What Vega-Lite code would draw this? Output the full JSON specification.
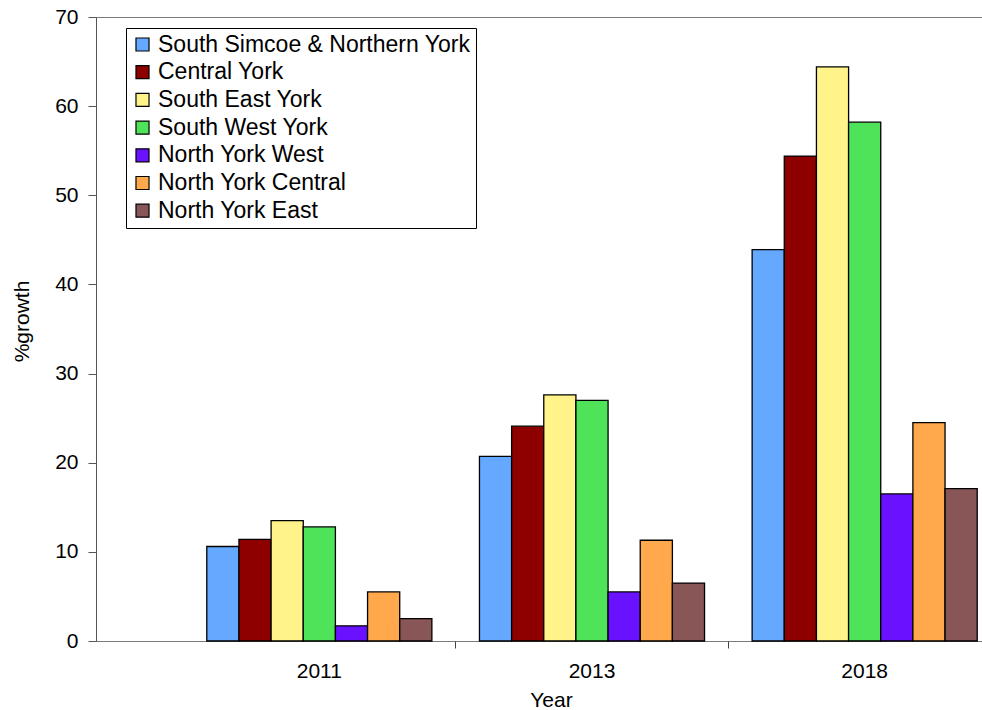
{
  "$schema": "https://vega.github.io/schema/vega-lite/v6.json",
  "width": 886,
  "height": 624,
  "autosize": {"type": "none"},
  "padding": {"left": 96, "top": 17, "right": 0, "bottom": 69},
  "background": "white",
  "config": {
    "view": {"stroke": "#7a7a7a", "strokeWidth": 1},
    "font": "Liberation Sans"
  },
  "data": {
    "values": [
      {"year": "2011", "region": "South Simcoe & Northern York", "growth": 10.6},
      {"year": "2011", "region": "Central York", "growth": 11.4},
      {"year": "2011", "region": "South East York", "growth": 13.5},
      {"year": "2011", "region": "South West York", "growth": 12.8},
      {"year": "2011", "region": "North York West", "growth": 1.7},
      {"year": "2011", "region": "North York Central", "growth": 5.5},
      {"year": "2011", "region": "North York East", "growth": 2.5},
      {"year": "2013", "region": "South Simcoe & Northern York", "growth": 20.7},
      {"year": "2013", "region": "Central York", "growth": 24.1},
      {"year": "2013", "region": "South East York", "growth": 27.6},
      {"year": "2013", "region": "South West York", "growth": 27.0},
      {"year": "2013", "region": "North York West", "growth": 5.5},
      {"year": "2013", "region": "North York Central", "growth": 11.3},
      {"year": "2013", "region": "North York East", "growth": 6.5},
      {"year": "2018", "region": "South Simcoe & Northern York", "growth": 43.9},
      {"year": "2018", "region": "Central York", "growth": 54.4},
      {"year": "2018", "region": "South East York", "growth": 64.4},
      {"year": "2018", "region": "South West York", "growth": 58.2},
      {"year": "2018", "region": "North York West", "growth": 16.5},
      {"year": "2018", "region": "North York Central", "growth": 24.5},
      {"year": "2018", "region": "North York East", "growth": 17.1}
    ]
  },
  "mark": {"type": "bar", "stroke": "black", "strokeWidth": 1.3},
  "encoding": {
    "x": {
      "field": "year",
      "type": "nominal",
      "scale": {"domain": ["2011", "2013", "2018"], "range": [87, 905], "paddingInner": 0, "paddingOuter": 0},
      "axis": {
        "title": "Year",
        "domain": false,
        "labelAngle": 0,
        "bandPosition": 0,
        "tickSize": 7,
        "tickColor": "#444",
        "tickOpacity": {"condition": {"test": "datum.value === '2011'", "value": 0}, "value": 1},
        "labelFontSize": 21,
        "labelPadding": 12,
        "labelColor": "black",
        "titleFontSize": 21,
        "titleFontWeight": "normal",
        "titleColor": "black",
        "titleX": 455,
        "titleY": 65,
        "titleAlign": "center",
        "titleBaseline": "alphabetic"
      }
    },
    "xOffset": {
      "field": "region",
      "type": "nominal",
      "scale": {
        "domain": ["South Simcoe & Northern York", "Central York", "South East York", "South West York", "North York West", "North York Central", "North York East"],
        "paddingInner": 0,
        "paddingOuter": 0.74
      }
    },
    "y": {
      "field": "growth",
      "type": "quantitative",
      "scale": {"domain": [0, 70], "nice": false},
      "axis": {
        "title": "%growth",
        "values": [0, 10, 20, 30, 40, 50, 60, 70],
        "grid": false,
        "domainColor": "#555",
        "tickColor": "#555",
        "tickSize": 8,
        "labelFontSize": 21,
        "labelPadding": 10,
        "labelColor": "black",
        "titleFontSize": 21,
        "titleFontWeight": "normal",
        "titleColor": "black",
        "titleX": -68,
        "titleY": 304,
        "titleAlign": "center",
        "titleBaseline": "alphabetic"
      }
    },
    "color": {
      "field": "region",
      "type": "nominal",
      "scale": {
        "domain": ["South Simcoe & Northern York", "Central York", "South East York", "South West York", "North York West", "North York Central", "North York East"],
        "range": ["#64A8FF", "#8E0000", "#FFF38A", "#4FE35A", "#6A12FF", "#FFA84C", "#885656"]
      },
      "legend": {
        "title": null,
        "orient": "none",
        "legendX": 30,
        "legendY": 11,
        "fillColor": "white",
        "strokeColor": "black",
        "padding": 5,
        "labelFontSize": 23,
        "labelColor": "black",
        "labelLimit": 400,
        "symbolType": "square",
        "symbolSize": 170,
        "symbolStrokeColor": "black",
        "symbolStrokeWidth": 1.2,
        "symbolOpacity": 1,
        "rowPadding": 3.7,
        "labelOffset": 4
      }
    }
  }
}
